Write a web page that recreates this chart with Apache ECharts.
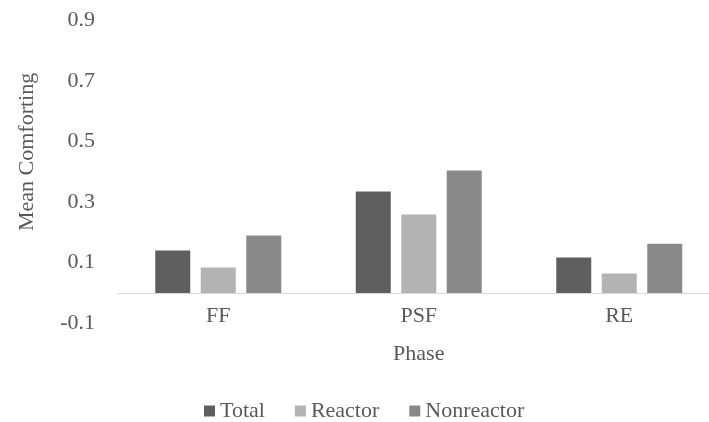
<!DOCTYPE html>
<html>
<head>
<meta charset="utf-8">
<script src="https://cdn.jsdelivr.net/npm/echarts@6/dist/echarts.min.js"></script>
<style>
html,body{margin:0;padding:0;background:#fff;}
#chart{width:709px;height:422px;}
</style>
</head>
<body>
<div id="chart"></div>
<script>
const phases = ['FF', 'PSF', 'RE'];
const total = [0.140, 0.335, 0.117];
const reactor = [0.084, 0.259, 0.064];
const nonreactor = [0.190, 0.405, 0.163];
const seriesNames = ['Total', 'Reactor', 'Nonreactor'];
const seriesColors = ['#5f5f5f', '#b3b3b3', '#898989'];

const font = '"Liberation Serif", "Times New Roman", serif';
const textColor = '#595959';
const fs = 22;

const chart = echarts.init(document.getElementById('chart'));
const values = [total, reactor, nonreactor];

chart.setOption({
  animation: false,
  textStyle: { fontFamily: font },
  grid: { left: 118, top: 20.7, width: 601.5, height: 302.5, outerBoundsMode: 'none' },
  legend: {
    left: 199,
    top: 395,
    icon: 'rect',
    itemWidth: 11,
    itemHeight: 11,
    itemGap: 30,
    textStyle: { fontFamily: font, fontSize: fs, color: textColor },
    data: seriesNames
  },
  xAxis: {
    type: 'category',
    data: phases,
    name: 'Phase',
    nameLocation: 'middle',
    nameGap: 20,
    nameTextStyle: { fontFamily: font, fontSize: fs, color: textColor },
    axisLine: { onZero: true, lineStyle: { color: '#d9d9d9', width: 1 } },
    axisTick: { show: false },
    axisLabel: { fontFamily: font, fontSize: fs, color: textColor, margin: -18 }
  },
  yAxis: {
    type: 'value',
    min: -0.1,
    max: 0.9,
    interval: 0.2,
    name: 'Mean Comforting',
    nameLocation: 'middle',
    nameGap: 80,
    nameTextStyle: { fontFamily: font, fontSize: fs, color: textColor, padding: [0, 0, 0, 40] },
    axisLine: { show: false },
    axisTick: { show: false },
    splitLine: { show: false },
    axisLabel: {
      fontFamily: font, fontSize: fs, color: textColor, margin: 23,
      formatter: v => v.toFixed(1)
    }
  },
  series: seriesNames.map((name, i) => ({
    name: name,
    type: 'bar',
    data: values[i],
    barWidth: 35,
    barGap: '30%',
    itemStyle: { color: seriesColors[i] }
  }))
});
</script>
</body>
</html>
